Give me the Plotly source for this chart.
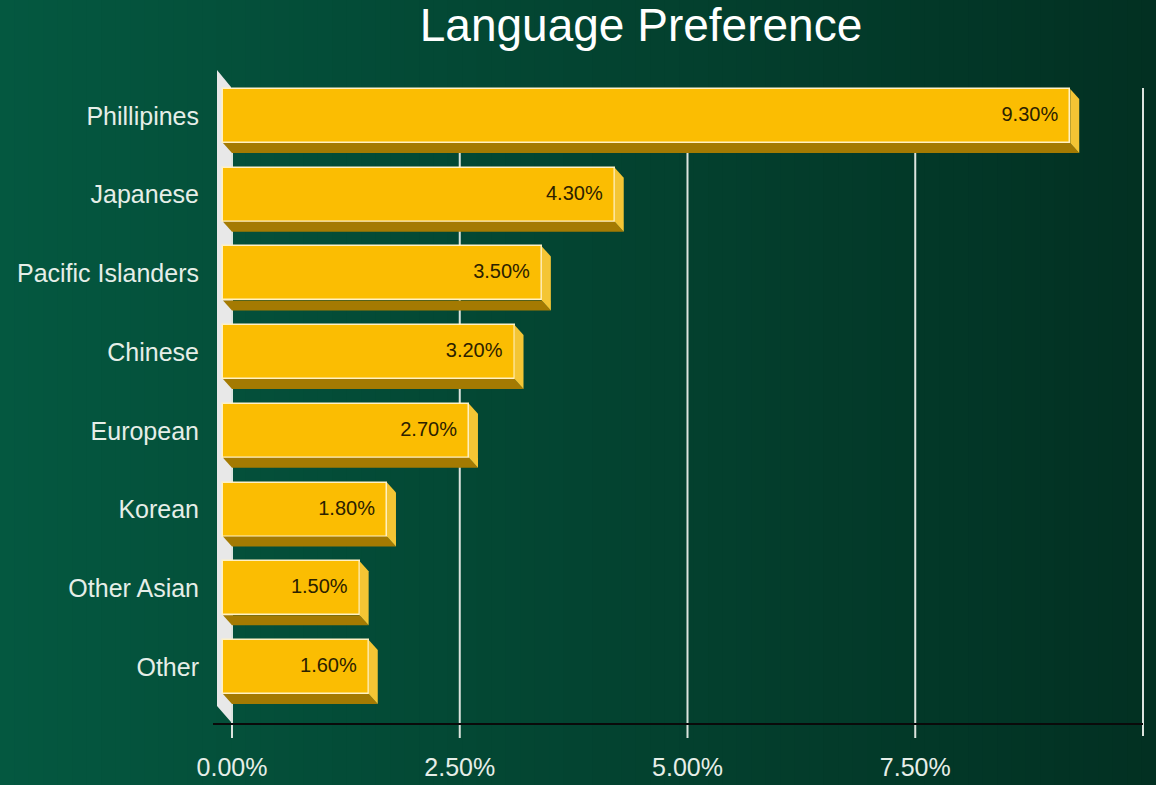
import plotly.graph_objects as go

# ---------------- data ----------------
categories = ["Phillipines", "Japanese", "Pacific Islanders", "Chinese",
              "European", "Korean", "Other Asian", "Other"]
values = [9.30, 4.30, 3.50, 3.20, 2.70, 1.80, 1.50, 1.60]
x_tick_values = [0, 2.5, 5, 7.5]
x_tick_labels = ["0.00%", "2.50%", "5.00%", "7.50%"]
grid_values = [0, 2.5, 5, 7.5, 10]

# ---------------- geometry (pixel-derived constants) ----------------
W, H_FIG = 1156, 785
PL, PR = 200, 1150          # plot area left/right in px
PT, PB = 60, 745            # plot area top/bottom in px
X0_PX, PX_PER_PCT = 232, 91.1
Y0_PX, PX_PER_CAT = 116, 78.7

def px2x(p):
    return (p - X0_PX) / PX_PER_PCT

def py2y(q):
    return (q - Y0_PX) / PX_PER_CAT

DX = 9 / PX_PER_PCT         # 3-D depth in x units
DY = 10 / PX_PER_CAT        # 3-D depth in y units
HB = 27 / PX_PER_CAT        # half bar thickness
pos = list(range(len(categories)))

fig = go.Figure()

# bottom faces
for i, v in zip(pos, values):
    fig.add_trace(go.Scatter(
        x=[-DX, v - DX, v, 0, -DX],
        y=[i + HB, i + HB, i + HB + DY, i + HB + DY, i + HB],
        fill="toself", fillcolor="#A47A02", mode="lines",
        line=dict(width=0, color="#A47A02"), hoverinfo="skip", showlegend=False))
# right faces
for i, v in zip(pos, values):
    fig.add_trace(go.Scatter(
        x=[v - DX, v, v, v - DX, v - DX],
        y=[i - HB, i - HB + DY, i + HB + DY, i + HB, i - HB],
        fill="toself", fillcolor="#F4C534", mode="lines",
        line=dict(width=0, color="#F4C534"), hoverinfo="skip", showlegend=False))

# front faces
fig.add_trace(go.Bar(
    orientation="h", y=pos, x=values, base=[-DX] * len(values),
    width=2 * HB, marker=dict(color="#FBBD02", line=dict(color="#FFF1C4", width=1.5)),
    hoverinfo="skip", showlegend=False))

# value labels
fig.add_trace(go.Scatter(
    x=[v - DX - 12 / PX_PER_PCT for v in values], y=pos, mode="text",
    text=[f"{v:.2f}%" for v in values], textposition="middle left",
    textfont=dict(family="Liberation Sans Narrow, Liberation Sans, Arial", size=20, color="#2B2100"),
    hoverinfo="skip", showlegend=False))

shapes = []
# background gradient strips
N = 80
c_left = (4, 88, 64)
c_right = (2, 48, 34)
fx = lambda p: (p - PL) / (PR - PL)
fy = lambda q: (PB - q) / (PB - PT)
for k in range(N):
    t = k / (N - 1)
    c = tuple(round(a + (b - a) * t) for a, b in zip(c_left, c_right))
    shapes.append(dict(type="rect", xref="paper", yref="paper",
                       x0=fx(k * W / N), x1=fx((k + 1) * W / N + 1),
                       y0=fy(H_FIG + 5), y1=fy(-5), line=dict(width=0),
                       fillcolor="rgb(%d,%d,%d)" % c, layer="below"))
# gridlines
for g in grid_values:
    shapes.append(dict(type="line", xref="x", yref="y", x0=g, x1=g,
                       y0=py2y(88), y1=py2y(738 if g < 10 else 736),
                       line=dict(color="#DCE4DE", width=2), layer="below"))
# axis line
shapes.append(dict(type="line", xref="x", yref="y", x0=px2x(213), x1=10,
                   y0=py2y(724), y1=py2y(724),
                   line=dict(color="#0A0A0A", width=2), layer="below"))
# left wall
shapes.append(dict(type="path", xref="x", yref="y",
                   path="M %f,%f L %f,%f L %f,%f L %f,%f Z" % (
                       px2x(217), py2y(70), px2x(231), py2y(87),
                       px2x(231), py2y(722), px2x(217), py2y(706)),
                   fillcolor="#E8E8E8", line=dict(width=0), layer="below"))

fig.update_layout(
    width=W, height=H_FIG,
    margin=dict(l=PL, r=W - PR, t=PT, b=H_FIG - PB, pad=0, autoexpand=False),
    paper_bgcolor="#03513B", plot_bgcolor="rgba(0,0,0,0)",
    shapes=shapes,
    title=dict(text="Language Preference", x=641 / W, xanchor="center",
               y=1 - 25 / H_FIG, yanchor="middle", xref="container", yref="container",
               automargin=False,
               font=dict(family="Liberation Sans, Arial", size=46, color="#FFFFFF")),
    xaxis=dict(range=[px2x(PL), px2x(PR)], showgrid=False, zeroline=False,
               showline=False, tickvals=x_tick_values, ticktext=x_tick_labels,
               ticks="", ticklabelstandoff=5, automargin=False,
               tickfont=dict(family="Liberation Sans, Arial", size=25, color="#E6EEE8")),
    yaxis=dict(range=[py2y(PB), py2y(PT)], showgrid=False, zeroline=False,
               showline=False, tickvals=pos, ticktext=categories, ticks="",
               ticklabelstandoff=0, automargin=False,
               tickfont=dict(family="Liberation Sans, Arial", size=25, color="#E6EEE8")),
    bargap=0,
)

fig.write_html("out.html", config={"displayModeBar": False},
               post_script="document.body.style.margin='0px';document.body.style.overflow='hidden';")
